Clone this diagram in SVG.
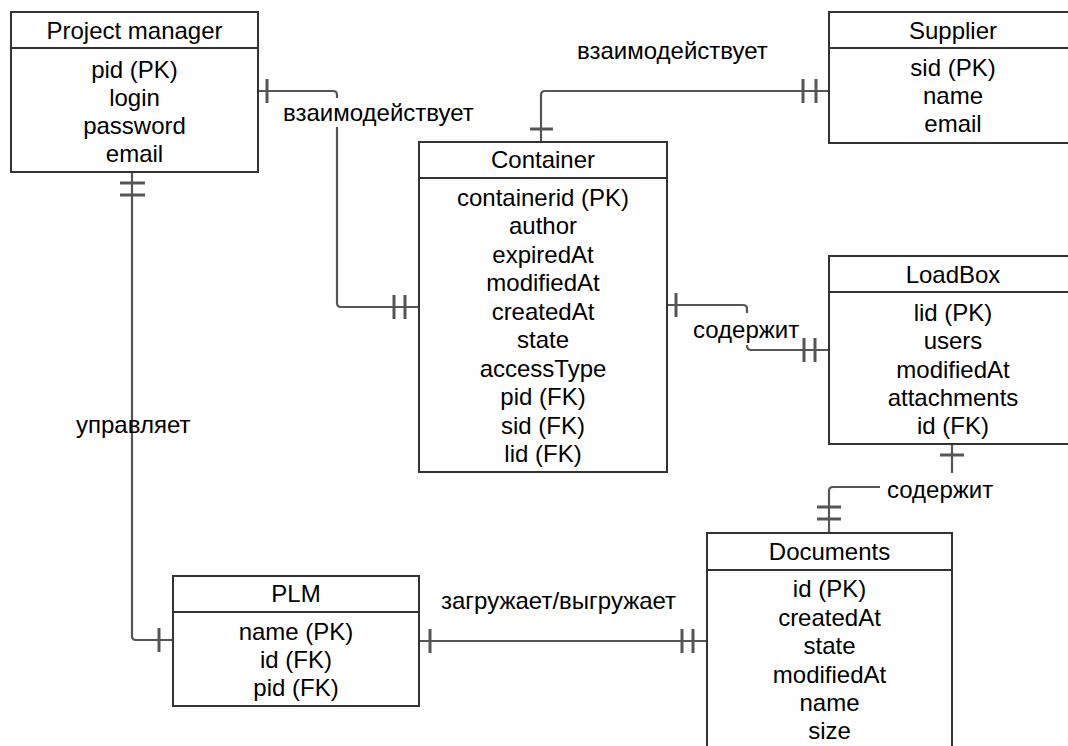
<svg xmlns="http://www.w3.org/2000/svg" width="1068" height="746" viewBox="0 0 1068 746">
  <style>
    .box { fill: #ffffff; stroke: #333333; stroke-width: 2; }
    .sep { stroke: #333333; stroke-width: 2; }
    .t { font-family: "Liberation Sans", Arial, sans-serif; font-size: 24px; fill: #000000; text-anchor: middle; }
    .lbl { font-family: "Liberation Sans", Arial, sans-serif; font-size: 24px; fill: #000000; }
    .ln { fill: none; stroke: #555555; stroke-width: 2.2; }
    .tick { stroke: #555555; stroke-width: 3; }
  </style>
  <rect width="1068" height="746" fill="#ffffff"/>

  <!-- relationship lines -->
  <g id="connectors">
    <!-- Project manager to Container -->
    <path class="ln" d="M258,91 H333 Q337,91 337,95 V98"/>
    <path class="ln" d="M337,127 V303 Q337,307 341,307 H419"/>
    <line class="tick" x1="267" y1="79" x2="267" y2="103"/>
    <line class="tick" x1="394" y1="295" x2="394" y2="319"/>
    <line class="tick" x1="405" y1="295" x2="405" y2="319"/>

    <!-- Supplier to Container -->
    <path class="ln" d="M829,91 H545 Q541,91 541,95 V142"/>
    <line class="tick" x1="530" y1="129" x2="553" y2="129"/>
    <line class="tick" x1="803" y1="79" x2="803" y2="103"/>
    <line class="tick" x1="816" y1="79" x2="816" y2="103"/>

    <!-- Container to LoadBox -->
    <path class="ln" d="M667,305 H743 Q747,305 747,309 V313"/>
    <path class="ln" d="M747,345 Q747,350 751,350 H829"/>
    <line class="tick" x1="676" y1="293" x2="676" y2="317"/>
    <line class="tick" x1="804" y1="338" x2="804" y2="362"/>
    <line class="tick" x1="815" y1="338" x2="815" y2="362"/>

    <!-- LoadBox to Documents -->
    <path class="ln" d="M952,444 V473"/>
    <line class="tick" x1="940" y1="455" x2="964" y2="455"/>
    <path class="ln" d="M880,487 H833 Q829,487 829,491 V533"/>
    <line class="tick" x1="817" y1="507" x2="841" y2="507"/>
    <line class="tick" x1="817" y1="519" x2="841" y2="519"/>

    <!-- Project manager to PLM -->
    <path class="ln" d="M132,172 V636 Q132,640 136,640 H173"/>
    <line class="tick" x1="120" y1="183" x2="145" y2="183"/>
    <line class="tick" x1="120" y1="195" x2="145" y2="195"/>
    <line class="tick" x1="159" y1="628" x2="159" y2="652"/>

    <!-- PLM to Documents -->
    <path class="ln" d="M419,641 H707"/>
    <line class="tick" x1="430" y1="629" x2="430" y2="653"/>
    <line class="tick" x1="682" y1="629" x2="682" y2="653"/>
    <line class="tick" x1="693" y1="629" x2="693" y2="653"/>

    <!-- relationship names -->
    <text class="lbl" x="283" y="121">взаимодействует</text>
    <text class="lbl" x="577" y="59">взаимодействует</text>
    <text class="lbl" x="693" y="338">содержит</text>
    <text class="lbl" x="887" y="498">содержит</text>
    <text class="lbl" x="76" y="433">управляет</text>
    <text class="lbl" x="441" y="609">загружает/выгружает</text>
  </g>

  <!-- entities -->
  <g id="project-manager">
    <rect class="box" x="11" y="12" width="247" height="160"/>
    <line class="sep" x1="11" y1="48" x2="258" y2="48"/>
    <text class="t" x="134.5" y="38.5">Project manager</text>
    <text class="t" x="134.5" y="77.5">pid (PK)</text>
    <text class="t" x="134.5" y="105.5">login</text>
    <text class="t" x="134.5" y="133.5">password</text>
    <text class="t" x="134.5" y="161.5">email</text>
  </g>

  <g id="supplier">
    <rect class="box" x="829" y="12" width="248" height="131"/>
    <line class="sep" x1="829" y1="48" x2="1077" y2="48"/>
    <text class="t" x="953" y="38.5">Supplier</text>
    <text class="t" x="953" y="75.5">sid (PK)</text>
    <text class="t" x="953" y="103.5">name</text>
    <text class="t" x="953" y="131.5">email</text>
  </g>

  <g id="container">
    <rect class="box" x="419" y="142" width="248" height="330"/>
    <line class="sep" x1="419" y1="178" x2="667" y2="178"/>
    <text class="t" x="543" y="167.5">Container</text>
    <text class="t" x="543" y="205.5">containerid (PK)</text>
    <text class="t" x="543" y="234">author</text>
    <text class="t" x="543" y="262.5">expiredAt</text>
    <text class="t" x="543" y="291">modifiedAt</text>
    <text class="t" x="543" y="319.5">createdAt</text>
    <text class="t" x="543" y="348">state</text>
    <text class="t" x="543" y="376.5">accessType</text>
    <text class="t" x="543" y="405">pid (FK)</text>
    <text class="t" x="543" y="433.5">sid (FK)</text>
    <text class="t" x="543" y="462">lid (FK)</text>
  </g>

  <g id="loadbox">
    <rect class="box" x="829" y="256" width="248" height="188"/>
    <line class="sep" x1="829" y1="292" x2="1077" y2="292"/>
    <text class="t" x="953" y="282.5">LoadBox</text>
    <text class="t" x="953" y="320.5">lid (PK)</text>
    <text class="t" x="953" y="348.5">users</text>
    <text class="t" x="953" y="377.5">modifiedAt</text>
    <text class="t" x="953" y="405.5">attachments</text>
    <text class="t" x="953" y="433.5">id (FK)</text>
  </g>

  <g id="documents">
    <rect class="box" x="707" y="533" width="245" height="230"/>
    <line class="sep" x1="707" y1="570" x2="952" y2="570"/>
    <text class="t" x="829.5" y="559.5">Documents</text>
    <text class="t" x="829.5" y="596.5">id (PK)</text>
    <text class="t" x="829.5" y="625.5">createdAt</text>
    <text class="t" x="829.5" y="653.5">state</text>
    <text class="t" x="829.5" y="682.5">modifiedAt</text>
    <text class="t" x="829.5" y="710.5">name</text>
    <text class="t" x="829.5" y="738.5">size</text>
  </g>

  <g id="plm">
    <rect class="box" x="173" y="576" width="246" height="130"/>
    <line class="sep" x1="173" y1="612" x2="419" y2="612"/>
    <text class="t" x="296" y="601.5">PLM</text>
    <text class="t" x="296" y="639.5">name (PK)</text>
    <text class="t" x="296" y="667.5">id (FK)</text>
    <text class="t" x="296" y="695.5">pid (FK)</text>
  </g>
</svg>
